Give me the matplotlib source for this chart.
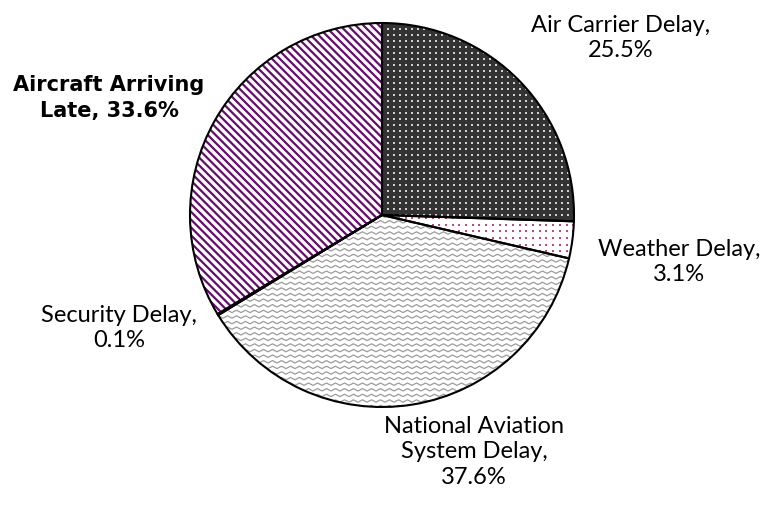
import matplotlib
matplotlib.use('Agg')
import matplotlib.pyplot as plt
import numpy as np

# Delay causes share (%)
causes = ['Air Carrier Delay', 'Weather Delay', 'National Aviation\nSystem Delay',
          'Security Delay', 'Aircraft Arriving\nLate']
shares = [25.5, 3.1, 37.6, 0.1, 33.6]

face_colors = ['#333333', 'white', 'white', '#a8e6e6', 'white']

W, H = 777, 514
fig = plt.figure(figsize=(W / 100, H / 100), dpi=100)
ax = fig.add_axes((0, 0, 1, 1))

cx, cy, r = 382, H - 215, 192

# fill layer
wedges, _ = ax.pie(shares, startangle=90, counterclock=False, center=(cx, cy),
                   radius=r, colors=face_colors, frame=True,
                   wedgeprops=dict(linewidth=0))

gx0, gx1 = cx - r - 12, cx + r + 12
gy0, gy1 = cy - r - 12, cy + r + 12


def dot_pattern(wedge, step, color, size):
    gx, gy = np.meshgrid(np.arange(gx0, gx1, step), np.arange(gy0, gy1, step))
    sc = ax.scatter(gx.ravel(), gy.ravel(), s=size, marker='s', color=color,
                    linewidths=0, zorder=2)
    sc.set_clip_path(wedge)


# Air carrier: white dots on dark grey
dot_pattern(wedges[0], 6.0, '#d0d0d0', 2.2)
# Weather: pink dots
dot_pattern(wedges[1], 6.7, '#c04a7a', 2.0)

# NAS: zigzag
nas = wedges[2]
xs = np.arange(gx0, gx1, 4.5)
for y0 in np.arange(gy0, gy1, 5.6):
    ys = y0 + np.where(np.arange(len(xs)) % 2 == 0, 0, 2.4)
    ln, = ax.plot(xs, ys, color='#9c9c9c', lw=0.9, zorder=2)
    ln.set_clip_path(nas)

# Aircraft late: purple diagonal stripes
late = wedges[4]
for b in np.arange(gx0 - 2 * r - 30, gx1 + 30, 7.8):
    ln, = ax.plot([b, b + 2 * r + 40], [gy1, gy1 - 2 * r - 40], color='#660c6e',
                  lw=1.6, zorder=2, solid_capstyle='butt')
    ln.set_clip_path(late)

# outline layer
ax.pie(shares, startangle=90, counterclock=False, center=(cx, cy),
       radius=r, colors=['none'] * 5, frame=True,
       wedgeprops=dict(edgecolor='black', linewidth=1.5, fill=False, zorder=3))
ax.set_xlim(0, W)
ax.set_ylim(0, H)
ax.set_aspect('equal')
ax.axis('off')

font = dict(family='Lato', fontsize=17, ha='center', va='center', color='black',
            linespacing=1.25)
ax.text(621, H - 38, 'Air Carrier Delay,\n25.5%', **font)
ax.text(679, H - 262, 'Weather Delay,\n3.1%', **font)
ax.text(474, H - 452, 'National Aviation\nSystem Delay,\n37.6%', **font)
ax.text(119, H - 328, 'Security Delay,\n0.1%', **font)
ax.text(109, H - 98, 'Aircraft Arriving\nLate, 33.6%', family='DejaVu Sans',
        fontsize=15, fontweight='bold', ha='center', va='center', linespacing=1.35)

fig.savefig('out.png', dpi=100)
